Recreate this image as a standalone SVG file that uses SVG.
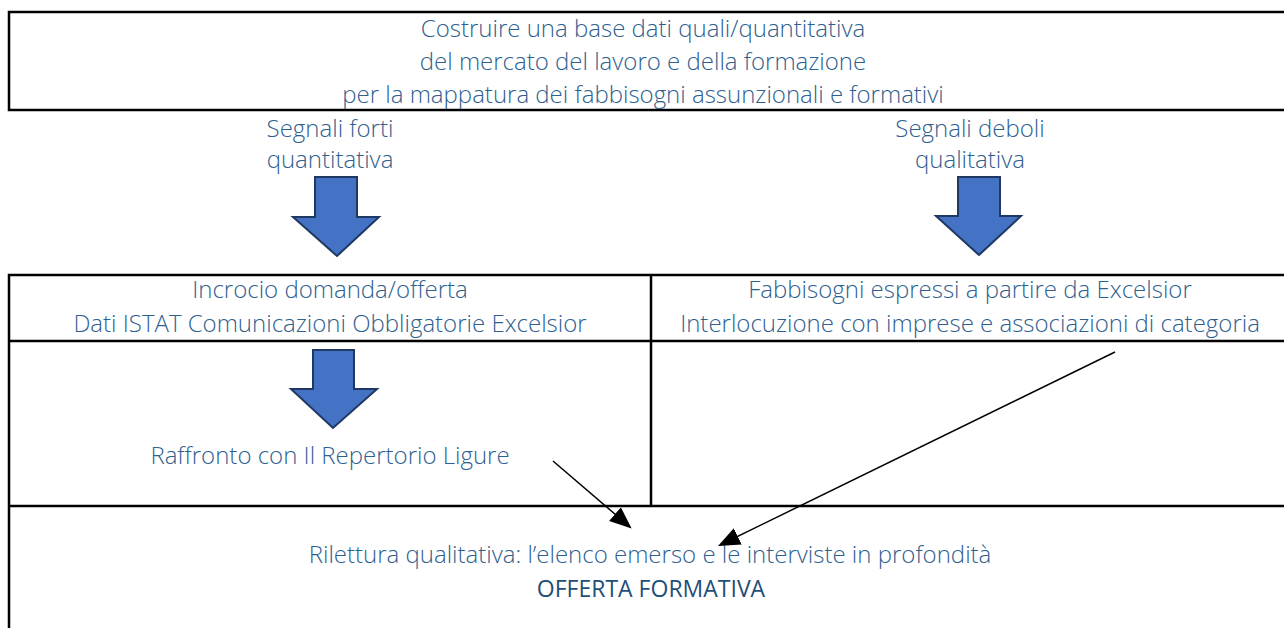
<svg xmlns="http://www.w3.org/2000/svg" width="1284" height="628" viewBox="0 0 1284 628">
<style>
.t{font-family:"Open Sans",Lato,sans-serif;font-weight:300;font-size:24px;fill:#2F5F8F;text-anchor:middle}
.b{font-family:"Open Sans",Lato,sans-serif;font-weight:400;font-size:23px;fill:#1F4E79;text-anchor:middle}
.box{fill:none;stroke:#000;stroke-width:2.5}
.ba{fill:#4472C4;stroke:#1F3864;stroke-width:2;stroke-linejoin:miter}
.c{stroke:#000;stroke-width:1.5;fill:none}
</style>
<defs>
<marker id="ah2" viewBox="0 0 10 10" refX="9" refY="5" markerWidth="22" markerHeight="18" markerUnits="userSpaceOnUse" orient="auto" preserveAspectRatio="none">
<path d="M0,0 L10,5 L0,10 z" fill="#000"/>
</marker>
</defs>
<rect width="1284" height="628" fill="#fff"/>
<g id="top">
<path class="box" d="M1290,12 H9 V110 H1290"/>
<text class="t" x="643" y="37">Costruire una base dati quali/quantitativa</text>
<text class="t" x="643" y="70">del mercato del lavoro e della formazione</text>
<text class="t" x="643" y="103">per la mappatura dei fabbisogni assunzionali e formativi</text>
</g>
<g id="forti">
<text class="t" x="330" y="137">Segnali forti</text>
<text class="t" x="330" y="168">quantitativa</text>
<path class="ba" d="M315,177 H357 V217 H379 L337,256 L293,217 H315 Z"/>
</g>
<g id="deboli">
<text class="t" x="970" y="137">Segnali deboli</text>
<text class="t" x="970" y="168">qualitativa</text>
<path class="ba" d="M958,177 H1000 V216 H1021 L979,255 L936,216 H958 Z"/>
</g>
<g id="table">
<path class="box" d="M1290,275 H9 V640"/>
<line class="box" x1="9" y1="341" x2="1290" y2="341"/>
<line class="box" x1="9" y1="506" x2="1290" y2="506"/>
<line class="box" x1="651" y1="275" x2="651" y2="506"/>
</g>
<g id="incrocio">
<text class="t" x="330" y="298">Incrocio domanda/offerta</text>
<text class="t" x="330" y="332">Dati ISTAT Comunicazioni Obbligatorie Excelsior</text>
</g>
<g id="fabbisogni">
<text class="t" x="970" y="298">Fabbisogni espressi a partire da Excelsior</text>
<text class="t" x="970" y="332">Interlocuzione con imprese e associazioni di categoria</text>
</g>
<g id="raffronto">
<path class="ba" d="M313,350 H354 V389 H377 L333,428 L291,389 H313 Z"/>
<text class="t" x="330" y="464">Raffronto con Il Repertorio Ligure</text>
</g>
<g id="rilettura">
<text class="t" x="650" y="563">Rilettura qualitativa: l’elenco emerso e le interviste in profondità</text>
<text class="b" x="651" y="597">OFFERTA FORMATIVA</text>
</g>
<g id="connectors">
<line class="c" x1="553" y1="461" x2="630" y2="527" marker-end="url(#ah2)"/>
<line class="c" x1="1115" y1="352" x2="720" y2="545" marker-end="url(#ah2)"/>
</g>
</svg>
